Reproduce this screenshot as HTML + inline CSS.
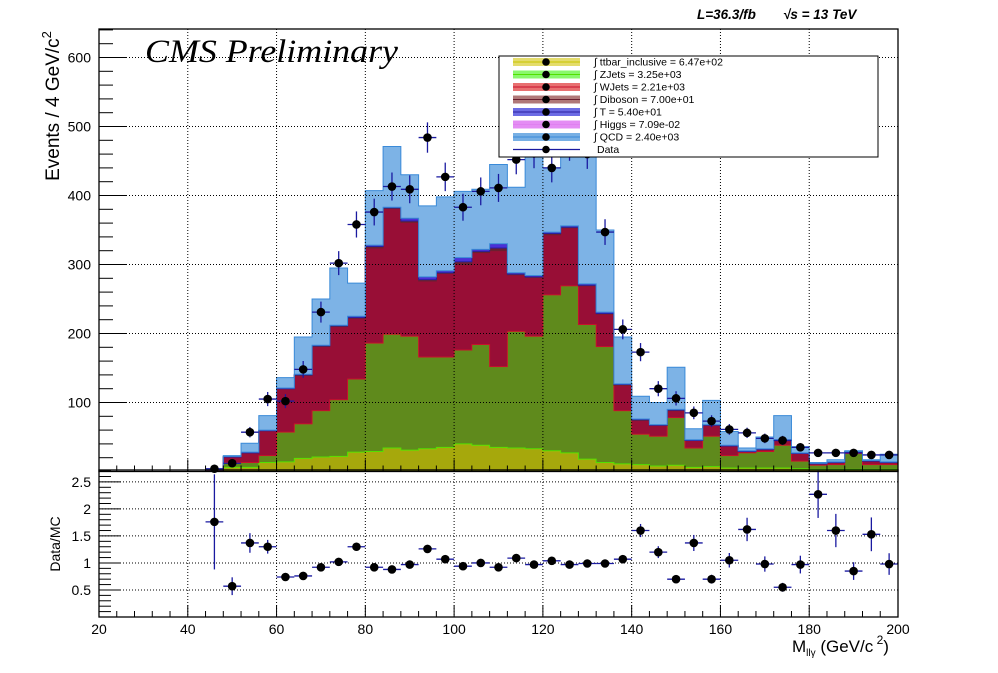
<!DOCTYPE html>
<html><head><meta charset="utf-8"><style>
body{margin:0;background:#fff;}
svg{display:block;font-family:"Liberation Sans",sans-serif;}
</style></head><body>
<svg id="c" width="998" height="673" viewBox="0 0 998 673"></svg>
<script>
const binLow = [44,48,52,56,60,64,68,72,76,80,84,88,92,96,100,104,108,112,116,120,124,128,132,136,140,144,148,152,156,160,164,168,172,176,180,184,188,192,196];
const ttbar  = [1,6,6,13,14,19,21,22,28,29,34,31,33,35,40,38,35,34,33,30,27,18,13,11,10,8,9,6,7,5,5,5,5,4,3,3,3,3,3];
const zjets  = [0,7,7,10,43,50,67,82,106,157,165,165,133,131,136,146,117,169,163,226,242,195,168,77,44,43,69,28,44,18,22,24,33,11,6,7,23,7,7];
const wjets  = [1,8,14,36,63,70,93,106,88,138,182,165,110,121,124,133,168,82,85,87,84,56,47,37,20,16,10,11,16,14,2,3,7,11,2,3,2,5,3];
const diboson= [0,0,0,0,0,1,1,1,1,2,1,2,2,1,4,2,4,1,1,2,1,1,1,1,1,0,1,0,0,0,0,0,0,0,0,0,0,0,0];
const tchan  = [0,1,1,1,1,1,1,1,2,2,1,4,4,3,6,3,6,2,2,2,2,2,2,1,1,1,1,1,1,1,1,1,1,1,1,1,1,1,1];
const qcd    = [1,1,13,21,15,54,67,83,48,79,88,63,103,107,96,87,115,124,186,93,119,190,119,68,33,32,61,16,35,20,4,17,35,9,1,3,1,1,11];
const data   = [4,12,57,105,102,148,231,302,358,376,413,409,484,427,383,406,411,452,461,440,472,460,347,206,173,120,106,85,73,61,56,48,45,35,27,27,27,24,24];
const ratio  = [1.76,0.57,1.37,1.30,0.74,0.76,0.92,1.02,1.30,0.92,0.88,0.97,1.26,1.07,0.94,1.00,0.92,1.09,0.97,1.04,0.97,0.99,0.99,1.07,1.60,1.20,0.70,1.37,0.70,1.05,1.62,0.98,0.55,0.97,2.27,1.60,0.85,1.53,0.98];
const yTicks = [100,200,300,400,500,600];
const rTicks = [0.5,1,1.5,2,2.5];
const xTicks = [20,40,60,80,100,120,140,160,180,200];
const series = [
 {name:'ttbar', vals:ttbar, fill:'#a6a80c', stroke:'#c8c400', label:'ttbar_inclusive = 6.47e+02', lc:'#e4dc6c'},
 {name:'zjets', vals:zjets, fill:'#5f8a1c', stroke:'#52e000', label:'ZJets = 3.25e+03', lc:'#8af86c'},
 {name:'wjets', vals:wjets, fill:'#980e36', stroke:'#c8102c', label:'WJets = 2.21e+03', lc:'#e87070'},
 {name:'diboson', vals:diboson, fill:'#6a2030', stroke:'#6a2030', label:'Diboson = 7.00e+01', lc:'#b07878'},
 {name:'t', vals:tchan, fill:'#4a30d8', stroke:'#2a20a0', label:'T = 5.40e+01', lc:'#6c6ce4'},
 {name:'higgs', vals:binLow.map(()=>0), fill:'#e080f0', stroke:'#e080f0', label:'Higgs = 7.09e-02', lc:'#e48cf4'},
 {name:'qcd', vals:qcd, fill:'#7db3e6', stroke:'#3a8ad8', label:'QCD = 2.40e+03', lc:'#78b0e4'}
];
const X0=99,X1=898,XMIN=20,XMAX=200;
const sx=v=>X0+(v-XMIN)/(XMAX-XMIN)*(X1-X0);
const TY0=471.5,TY1=29,TMAX=(TY0-TY1)/0.69;
const sy=v=>TY0-v/TMAX*(TY0-TY1);
const RY0=617,RY1=470,RMAX=2.72;
const ry=v=>RY0-v/RMAX*(RY0-RY1);
const NS='http://www.w3.org/2000/svg';
const svg=document.getElementById('c');
function mk(tag,attrs,parent){const e=document.createElementNS(NS,tag);for(const k in attrs)e.setAttribute(k,attrs[k]);(parent||svg).appendChild(e);return e;}
const W=4;
const cum=binLow.map(()=>0);
const gStack=mk('g',{});


series.forEach(s=>{
  const bottoms=cum.slice();
  binLow.forEach((b,i)=>cum[i]+=s.vals[i]);
  if(s.name==='higgs')return;
  let d='M'+sx(binLow[0])+','+sy(0);
  binLow.forEach((b,i)=>{d+=' L'+sx(b)+','+sy(cum[i])+' L'+sx(b+W)+','+sy(cum[i]);});
  for(let i=binLow.length-1;i>=0;i--){d+=' L'+sx(binLow[i]+W)+','+sy(bottoms[i])+' L'+sx(binLow[i])+','+sy(bottoms[i]);}
  d+='Z';
  const p=mk('path',{d:d,fill:s.fill,stroke:s.stroke,'stroke-width':1},gStack);
  
  
});
const grid=mk('g',{stroke:'#000','stroke-width':1,'stroke-dasharray':'1,2'});


xTicks.slice(1,-1).forEach(t=>{mk('line',{x1:sx(t),x2:sx(t),y1:TY1,y2:TY0},grid);mk('line',{x1:sx(t),x2:sx(t),y1:RY1,y2:RY0},grid);});
yTicks.forEach(t=>mk('line',{x1:X0,x2:X1,y1:sy(t),y2:sy(t)},grid));
rTicks.forEach(t=>mk('line',{x1:X0,x2:X1,y1:ry(t),y2:ry(t)},grid));
const gD=mk('g',{});


binLow.forEach((b,i)=>{
  const cx=sx(b+W/2),cy=sy(data[i]),e=Math.sqrt(data[i]);
  mk('line',{x1:sx(b),x2:sx(b+W),y1:cy,y2:cy,stroke:'#1a1aa0','stroke-width':1.3},gD);
  mk('line',{x1:cx,x2:cx,y1:sy(data[i]+e),y2:sy(Math.max(0,data[i]-e)),stroke:'#1a1aa0','stroke-width':1.3},gD);
  const c=mk('circle',{cx:cx,cy:cy,r:4.3,fill:'#000'},gD);
  
  
});
const gR=mk('g',{});


binLow.forEach((b,i)=>{
  const cx=sx(b+W/2),cy=ry(ratio[i]),e=ratio[i]/Math.sqrt(Math.max(1,data[i]));
  mk('line',{x1:sx(b),x2:sx(b+W),y1:cy,y2:cy,stroke:'#1a1aa0','stroke-width':1.3},gR);
  mk('line',{x1:cx,x2:cx,y1:ry(Math.min(RMAX,ratio[i]+e)),y2:ry(ratio[i]-e),stroke:'#1a1aa0','stroke-width':1.3},gR);
  const c=mk('circle',{cx:cx,cy:cy,r:4.3,fill:'#000'},gR);
  
  
});
const f1=mk('rect',{x:X0,y:TY1,width:X1-X0,height:TY0-TY1,fill:'none',stroke:'#000','stroke-width':1.3});

const f2=mk('rect',{x:X0,y:RY1,width:X1-X0,height:RY0-RY1,fill:'none',stroke:'#000','stroke-width':1.3});

const tk=mk('g',{stroke:'#000','stroke-width':1});
for(let v=0;v<=TMAX;v+=20){const L=(v%100===0)?28:14;mk('line',{x1:X0,x2:X0+L,y1:sy(v),y2:sy(v)},tk);}
for(let v=0.1;v<RMAX;v+=0.1){const m=Math.abs(v*2-Math.round(v*2))<0.01;mk('line',{x1:X0,x2:X0+(m?22:12),y1:ry(v),y2:ry(v)},tk);}
for(let v=20;v<=200;v+=4){const m=v%20===0;mk('line',{x1:sx(v),x2:sx(v),y1:TY0,y2:TY0-(m?12:6)},tk);mk('line',{x1:sx(v),x2:sx(v),y1:RY0,y2:RY0-(m?12:6)},tk);}
yTicks.forEach(t=>{const e=mk('text',{x:91,y:sy(t)+5,'text-anchor':'end','font-size':14});e.textContent=t;
 });
rTicks.forEach(t=>{const e=mk('text',{x:91,y:ry(t)+5,'text-anchor':'end','font-size':14});e.textContent=t;
 });
xTicks.forEach(t=>{const e=mk('text',{x:sx(t),y:634,'text-anchor':'middle','font-size':14});e.textContent=t;
 });
const lg=mk('g',{});

mk('rect',{x:499,y:56,width:379,height:101,fill:'#fff',stroke:'#000','stroke-width':1},lg);
series.forEach((s,i)=>{
  const y=62+i*12.5;
  const g=mk('g',{},lg);
  
  mk('rect',{x:513,y:y-4,width:67,height:8,fill:s.lc},g);
  mk('line',{x1:513,x2:580,y1:y,y2:y,stroke:s.stroke,'stroke-width':1},g);
  mk('circle',{cx:546,cy:y,r:3.8,fill:'#000'},g);
  const t=mk('text',{x:594,y:y+3.5,'font-size':10.5},g);t.textContent='\u222B '+s.label;
});
{const y=62+7*12.5;const g=mk('g',{},lg);
 
 mk('line',{x1:513,x2:580,y1:y,y2:y,stroke:'#1a1aa0','stroke-width':1.3},g);
 mk('circle',{cx:546,cy:y,r:3.8,fill:'#000'},g);
 const t=mk('text',{x:597,y:y+3.5,'font-size':10.5},g);t.textContent='Data';}
</script>
<svg width="998" height="673" style="position:absolute;left:0;top:0">
<text x="145" y="62" font-family="Liberation Serif,serif" font-style="italic" font-size="33" textLength="253" lengthAdjust="spacingAndGlyphs">CMS Preliminary</text>
<text x="697" y="19" font-family="Liberation Sans,sans-serif" font-style="italic" font-weight="bold" font-size="13.5">L=36.3/fb</text>
<text x="783" y="19" font-family="Liberation Sans,sans-serif" font-style="italic" font-weight="bold" font-size="13.5">√s = 13 TeV</text>
<text transform="translate(59,106) rotate(-90)" text-anchor="middle" font-family="Liberation Sans,sans-serif" font-size="19">Events / 4 GeV/c<tspan dy="-8" font-size="13">2</tspan></text>
<text transform="translate(60,544) rotate(-90)" text-anchor="middle" font-family="Liberation Sans,sans-serif" font-size="14">Data/MC</text>
<text x="792" y="652" font-family="Liberation Sans,sans-serif" font-size="17">M<tspan dy="4" font-size="10">llγ</tspan><tspan dy="-4"> (GeV/c</tspan><tspan dy="-8" font-size="12"> 2</tspan><tspan dy="8">)</tspan></text>
</svg>
</body></html>
